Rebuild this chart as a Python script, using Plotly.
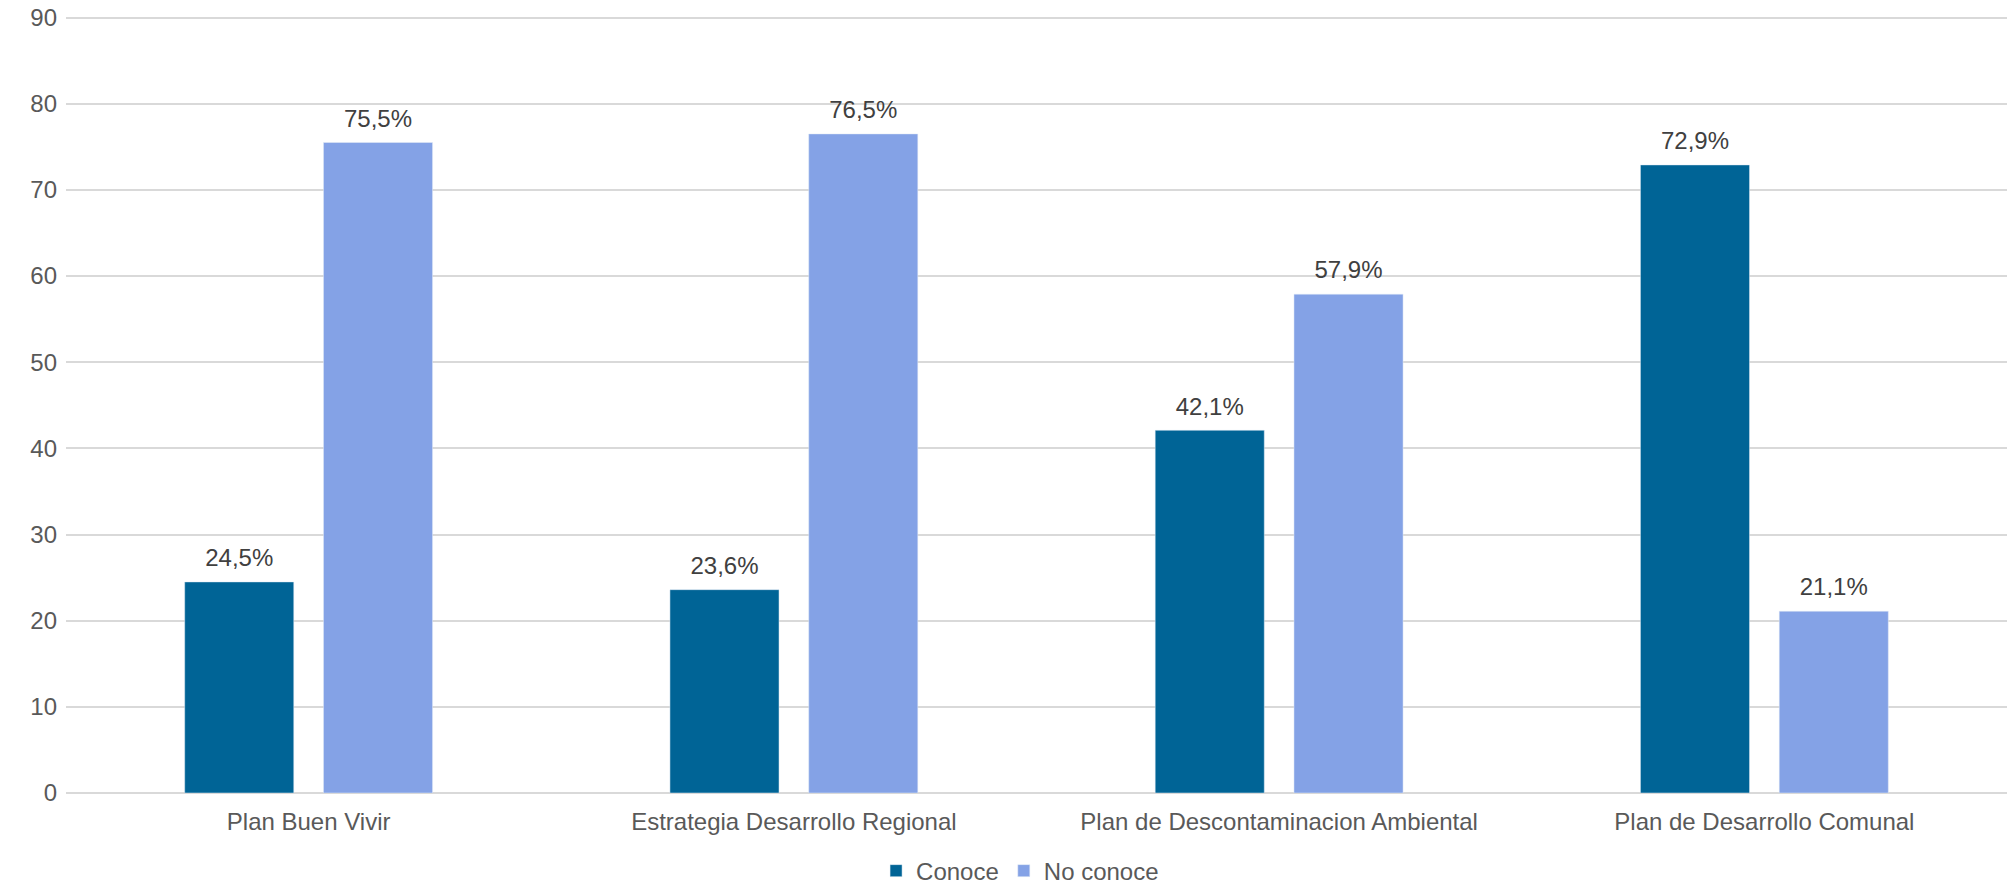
import plotly.graph_objects as go

categories = ["Plan Buen Vivir", "Estrategia Desarrollo Regional",
              "Plan de Descontaminacion Ambiental", "Plan de Desarrollo Comunal"]
conoce = [24.5, 23.6, 42.1, 72.9]
no_conoce = [75.5, 76.5, 57.9, 21.1]
y_ticks = [0, 10, 20, 30, 40, 50, 60, 70, 80, 90]

FONT = "Liberation Sans, Arial, sans-serif"
COL_A = "#006496"
COL_B = "#84A2E6"

fig = go.Figure()
for name, vals, col, grp in [("Conoce", conoce, COL_A, "a"),
                             ("No conoce", no_conoce, COL_B, "b")]:
    fig.add_trace(go.Bar(name=name, x=categories, y=vals, marker_color=col,
                         offsetgroup=grp))
for vals, grp in [(conoce, "a"), (no_conoce, "b")]:
    fig.add_trace(go.Scatter(
        x=categories, y=vals, mode="markers+text", offsetgroup=grp,
        text=[f"{v:.1f}%".replace(".", ",") for v in vals],
        textposition="top center",
        marker=dict(size=14, opacity=0),
        textfont=dict(size=24, color="#404040", family=FONT),
        showlegend=False, hoverinfo="skip", cliponaxis=False))

fig.update_layout(
    width=2008, height=887,
    barmode="group", bargap=0.428, bargroupgap=0.214,
    scattermode="group", scattergap=0.428,
    plot_bgcolor="white", paper_bgcolor="white",
    margin=dict(l=66, r=1, t=15, b=94, autoexpand=False),
    font=dict(family=FONT, size=24, color="#595959"),
    showlegend=True,
    legend=dict(orientation="h", xref="container", yref="container",
                x=0.508, xanchor="center", y=0.018, yanchor="middle",
                font=dict(size=24, color="#595959"),
                traceorder="normal", bgcolor="rgba(0,0,0,0)"),
)
fig.update_yaxes(range=[0, 90.3], tickvals=y_ticks, showgrid=True,
                 gridcolor="#d9d9d9", gridwidth=1.5, zeroline=True,
                 zerolinecolor="#d9d9d9", zerolinewidth=1.5,
                 tickfont=dict(size=24, color="#595959"),
                 ticks="", ticklabelstandoff=8)
fig.update_xaxes(showgrid=False, showline=False, ticks="",
                 ticklabelstandoff=12,
                 tickfont=dict(size=24, color="#595959"))

fig.write_html("out.html",
               config={"displayModeBar": False},
               post_script="document.body.style.margin='0';"
                           "document.body.style.overflow='hidden';")
